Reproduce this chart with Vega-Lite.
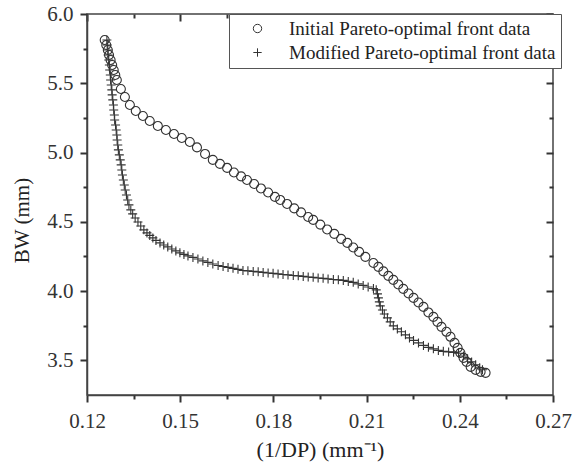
{
  "$schema": "https://vega.github.io/schema/vega-lite/v6.json",
  "width": 466,
  "height": 381,
  "autosize": {"type": "none"},
  "padding": {"left": 87, "top": 14, "right": 25, "bottom": 77},
  "config": {"view": {"stroke": "#444444", "strokeWidth": 1.5}},
  "data": {"values": [
    {"s":"I","x":0.1257,"y":5.812},{"s":"I","x":0.1262,"y":5.776},{"s":"I","x":0.1267,"y":5.740},{"s":"I","x":0.1271,"y":5.704},{"s":"I","x":0.1276,"y":5.668},{"s":"I","x":0.1281,"y":5.632},{"s":"I","x":0.1286,"y":5.596},{"s":"I","x":0.1291,"y":5.560},{"s":"I","x":0.1296,"y":5.524},{"s":"I","x":0.1309,"y":5.459},{"s":"I","x":0.1322,"y":5.401},{"s":"I","x":0.1338,"y":5.343},{"s":"I","x":0.1357,"y":5.300},{"s":"I","x":0.1380,"y":5.264},{"s":"I","x":0.1402,"y":5.228},{"s":"I","x":0.1428,"y":5.192},{"s":"I","x":0.1454,"y":5.163},{"s":"I","x":0.1480,"y":5.134},{"s":"I","x":0.1505,"y":5.105},{"s":"I","x":0.1531,"y":5.076},
    {"s":"I","x":0.1554,"y":5.037},{"s":"I","x":0.1580,"y":4.990},{"s":"I","x":0.1605,"y":4.947},{"s":"I","x":0.1628,"y":4.918},{"s":"I","x":0.1651,"y":4.889},{"s":"I","x":0.1673,"y":4.856},{"s":"I","x":0.1696,"y":4.828},{"s":"I","x":0.1715,"y":4.802},{"s":"I","x":0.1738,"y":4.773},{"s":"I","x":0.1760,"y":4.741},{"s":"I","x":0.1783,"y":4.712},{"s":"I","x":0.1805,"y":4.680},{"s":"I","x":0.1822,"y":4.658},{"s":"I","x":0.1844,"y":4.629},{"s":"I","x":0.1867,"y":4.597},{"s":"I","x":0.1889,"y":4.568},{"s":"I","x":0.1912,"y":4.535},{"s":"I","x":0.1928,"y":4.514},{"s":"I","x":0.1951,"y":4.480},{"s":"I","x":0.1973,"y":4.445},{"s":"I","x":0.1996,"y":4.413},{"s":"I","x":0.2018,"y":4.377},{"s":"I","x":0.2038,"y":4.348},{"s":"I","x":0.2057,"y":4.315},{"s":"I","x":0.2076,"y":4.283},{"s":"I","x":0.2096,"y":4.247},{"s":"I","x":0.2122,"y":4.203},{"s":"I","x":0.2138,"y":4.175},{"s":"I","x":0.2154,"y":4.142},{"s":"I","x":0.2170,"y":4.110},{"s":"I","x":0.2186,"y":4.081},{"s":"I","x":0.2202,"y":4.048},{"s":"I","x":0.2218,"y":4.016},{"s":"I","x":0.2235,"y":3.983},{"s":"I","x":0.2251,"y":3.951},{"s":"I","x":0.2267,"y":3.918},{"s":"I","x":0.2283,"y":3.886},{"s":"I","x":0.2299,"y":3.846},{"s":"I","x":0.2315,"y":3.814},{"s":"I","x":0.2328,"y":3.778},{"s":"I","x":0.2341,"y":3.742},{"s":"I","x":0.2357,"y":3.706},{"s":"I","x":0.2370,"y":3.670},{"s":"I","x":0.2383,"y":3.626},{"s":"I","x":0.2393,"y":3.590},{"s":"I","x":0.2402,"y":3.554},{"s":"I","x":0.2412,"y":3.518},{"s":"I","x":0.2422,"y":3.489},{"s":"I","x":0.2435,"y":3.453},{"s":"I","x":0.2451,"y":3.431},{"s":"I","x":0.2467,"y":3.417},{"s":"I","x":0.2483,"y":3.410},
    {"s":"M","x":0.1264,"y":5.812},{"s":"M","x":0.1265,"y":5.776},{"s":"M","x":0.1267,"y":5.740},{"s":"M","x":0.1268,"y":5.704},{"s":"M","x":0.1270,"y":5.668},{"s":"M","x":0.1272,"y":5.632},{"s":"M","x":0.1273,"y":5.596},{"s":"M","x":0.1275,"y":5.560},{"s":"M","x":0.1276,"y":5.524},{"s":"M","x":0.1278,"y":5.488},{"s":"M","x":0.1280,"y":5.452},{"s":"M","x":0.1281,"y":5.416},{"s":"M","x":0.1283,"y":5.380},{"s":"M","x":0.1285,"y":5.343},{"s":"M","x":0.1286,"y":5.307},{"s":"M","x":0.1288,"y":5.271},{"s":"M","x":0.1289,"y":5.235},{"s":"M","x":0.1292,"y":5.199},{"s":"M","x":0.1294,"y":5.163},{"s":"M","x":0.1296,"y":5.127},{"s":"M","x":0.1297,"y":5.091},{"s":"M","x":0.1299,"y":5.055},{"s":"M","x":0.1301,"y":5.019},{"s":"M","x":0.1304,"y":4.983},{"s":"M","x":0.1307,"y":4.947},{"s":"M","x":0.1310,"y":4.911},{"s":"M","x":0.1312,"y":4.874},{"s":"M","x":0.1314,"y":4.838},{"s":"M","x":0.1317,"y":4.802},{"s":"M","x":0.1320,"y":4.766},{"s":"M","x":0.1323,"y":4.730},{"s":"M","x":0.1327,"y":4.694},{"s":"M","x":0.1331,"y":4.658},{"s":"M","x":0.1335,"y":4.622},{"s":"M","x":0.1341,"y":4.586},{"s":"M","x":0.1347,"y":4.557},{"s":"M","x":0.1355,"y":4.528},{"s":"M","x":0.1364,"y":4.499},{"s":"M","x":0.1373,"y":4.470},{"s":"M","x":0.1383,"y":4.442},{"s":"M","x":0.1393,"y":4.420},{"s":"M","x":0.1402,"y":4.402},{"s":"M","x":0.1412,"y":4.384},{"s":"M","x":0.1422,"y":4.366},{"s":"M","x":0.1435,"y":4.348},{"s":"M","x":0.1447,"y":4.333},{"s":"M","x":0.1460,"y":4.319},{"s":"M","x":0.1473,"y":4.304},{"s":"M","x":0.1486,"y":4.290},{"s":"M","x":0.1499,"y":4.276},{"s":"M","x":0.1512,"y":4.265},{"s":"M","x":0.1525,"y":4.254},{"s":"M","x":0.1541,"y":4.243},{"s":"M","x":0.1557,"y":4.232},{"s":"M","x":0.1573,"y":4.218},{"s":"M","x":0.1589,"y":4.207},{"s":"M","x":0.1605,"y":4.196},{"s":"M","x":0.1622,"y":4.185},{"s":"M","x":0.1638,"y":4.178},{"s":"M","x":0.1654,"y":4.171},{"s":"M","x":0.1670,"y":4.164},{"s":"M","x":0.1686,"y":4.157},{"s":"M","x":0.1702,"y":4.149},{"s":"M","x":0.1718,"y":4.146},{"s":"M","x":0.1735,"y":4.142},{"s":"M","x":0.1751,"y":4.139},{"s":"M","x":0.1767,"y":4.135},{"s":"M","x":0.1783,"y":4.131},{"s":"M","x":0.1799,"y":4.128},{"s":"M","x":0.1815,"y":4.124},{"s":"M","x":0.1831,"y":4.120},{"s":"M","x":0.1847,"y":4.117},{"s":"M","x":0.1864,"y":4.113},{"s":"M","x":0.1880,"y":4.110},{"s":"M","x":0.1896,"y":4.106},{"s":"M","x":0.1912,"y":4.102},{"s":"M","x":0.1928,"y":4.099},{"s":"M","x":0.1944,"y":4.095},{"s":"M","x":0.1960,"y":4.092},{"s":"M","x":0.1976,"y":4.088},{"s":"M","x":0.1993,"y":4.084},{"s":"M","x":0.2009,"y":4.081},{"s":"M","x":0.2025,"y":4.077},{"s":"M","x":0.2041,"y":4.070},{"s":"M","x":0.2057,"y":4.063},{"s":"M","x":0.2073,"y":4.052},{"s":"M","x":0.2089,"y":4.041},{"s":"M","x":0.2105,"y":4.030},{"s":"M","x":0.2122,"y":4.019},{"s":"M","x":0.2131,"y":4.009},
    {"s":"M","x":0.2135,"y":3.980},{"s":"M","x":0.2138,"y":3.951},{"s":"M","x":0.2141,"y":3.922},{"s":"M","x":0.2144,"y":3.893},{"s":"M","x":0.2151,"y":3.864},{"s":"M","x":0.2157,"y":3.835},{"s":"M","x":0.2167,"y":3.807},{"s":"M","x":0.2176,"y":3.778},{"s":"M","x":0.2186,"y":3.749},{"s":"M","x":0.2199,"y":3.727},{"s":"M","x":0.2212,"y":3.706},{"s":"M","x":0.2225,"y":3.684},{"s":"M","x":0.2238,"y":3.662},{"s":"M","x":0.2251,"y":3.644},{"s":"M","x":0.2267,"y":3.626},{"s":"M","x":0.2283,"y":3.608},{"s":"M","x":0.2299,"y":3.594},{"s":"M","x":0.2315,"y":3.583},{"s":"M","x":0.2331,"y":3.572},{"s":"M","x":0.2347,"y":3.565},{"s":"M","x":0.2364,"y":3.561},{"s":"M","x":0.2380,"y":3.558},{"s":"M","x":0.2396,"y":3.551},{"s":"M","x":0.2412,"y":3.532},{"s":"M","x":0.2425,"y":3.511},{"s":"M","x":0.2438,"y":3.489},{"s":"M","x":0.2451,"y":3.468},{"s":"M","x":0.2464,"y":3.446},{"s":"M","x":0.2473,"y":3.432}
  ]},
  "layer": [
    {
      "mark": {"type": "point", "filled": false, "size": 81, "stroke": "#333333", "strokeWidth": 1.1, "opacity": 1},
      "encoding": {
        "x": {
          "field": "x", "type": "quantitative",
          "scale": {"domain": [0.12, 0.27], "zero": false, "nice": false},
          "axis": {
            "values": [0.12,0.15,0.18,0.21,0.24,0.27],
            "grid": false,
            "tickSize": 7, "tickWidth": 2, "tickColor": "#333333",
            "domainColor": "#444444", "domainWidth": 1.5,
            "labelFont": "Liberation Serif", "labelFontSize": 21, "labelColor": "#333333", "labelFlush": false, "labelPadding": 8,
            "title": "(1/DP) (mm⁻¹)",
            "titleFont": "Liberation Serif", "titleFontSize": 22, "titleFontWeight": "normal", "titleColor": "#222222", "titlePadding": 8
          }
        },
        "y": {
          "field": "y", "type": "quantitative",
          "scale": {"domain": [3.25, 6.0], "zero": false, "nice": false},
          "axis": {
            "values": [3.5,4,4.5,5,5.5,6],
            "grid": false,
            "tickSize": 7, "tickWidth": 2, "tickColor": "#333333",
            "domainColor": "#444444", "domainWidth": 1.5,
            "labelFont": "Liberation Serif", "labelFontSize": 21, "labelColor": "#333333", "labelPadding": 7,
            "title": "BW (mm)",
            "titleFont": "Liberation Serif", "titleFontSize": 21, "titleFontWeight": "normal", "titleColor": "#222222",
            "titleX": -59, "titleY": 206, "titleBaseline": "alphabetic"
          }
        },
        "shape": {
          "field": "s", "type": "nominal",
          "scale": {"domain": ["I", "M"], "range": ["circle", "M-1,0H1M0,-1V1"]},
          "legend": {
            "title": null,
            "orient": "none",
            "legendX": 142,
            "legendY": 0,
            "padding": 5,
            "rowPadding": 4,
            "strokeColor": "#555555",
            "fillColor": "#ffffff",
            "symbolOffset": 14,
            "labelOffset": 22,
            "labelExpr": "datum.label == 'I' ? 'Initial Pareto-optimal front data' : 'Modified Pareto-optimal front data'",
            "labelFont": "Liberation Serif",
            "labelFontSize": 19,
            "labelColor": "#222222",
            "labelLimit": 400,
            "symbolSize": 70,
            "symbolStrokeColor": "#333333",
            "symbolStrokeWidth": 1
          }
        }
      }
    },
    {
      "mark": {"type": "point", "opacity": 0},
      "encoding": {
        "x": {"field": "x", "type": "quantitative",
          "axis": {"orient": "top", "values": [0.12,0.15,0.18,0.21,0.24,0.27], "labels": false, "title": null, "grid": false, "domain": false, "tickSize": -7, "tickColor": "#333333", "tickWidth": 2}},
        "y": {"field": "y", "type": "quantitative",
          "axis": {"orient": "right", "values": [3.5,4,4.5,5,5.5,6], "labels": false, "title": null, "grid": false, "domain": false, "tickSize": -7, "tickColor": "#333333", "tickWidth": 2}}
      }
    },
    {
      "mark": {"type": "point", "opacity": 0},
      "encoding": {
        "x": {"field": "x", "type": "quantitative",
          "axis": {"orient": "bottom", "values": [0.135,0.165,0.195,0.225,0.255], "labels": false, "title": null, "grid": false, "domain": false, "tickSize": 4, "tickColor": "#333333", "tickWidth": 2}},
        "y": {"field": "y", "type": "quantitative",
          "axis": {"orient": "left", "values": [3.75,4.25,4.75,5.25,5.75], "labels": false, "title": null, "grid": false, "domain": false, "tickSize": 4, "tickColor": "#333333", "tickWidth": 2}}
      }
    },
    {
      "mark": {"type": "point", "opacity": 0},
      "encoding": {
        "x": {"field": "x", "type": "quantitative",
          "axis": {"orient": "top", "values": [0.135,0.165,0.195,0.225,0.255], "labels": false, "title": null, "grid": false, "domain": false, "tickSize": -4, "tickColor": "#333333", "tickWidth": 2}},
        "y": {"field": "y", "type": "quantitative",
          "axis": {"orient": "right", "values": [3.75,4.25,4.75,5.25,5.75], "labels": false, "title": null, "grid": false, "domain": false, "tickSize": -4, "tickColor": "#333333", "tickWidth": 2}}
      }
    }
  ],
  "resolve": {"axis": {"x": "independent", "y": "independent"}}
}
